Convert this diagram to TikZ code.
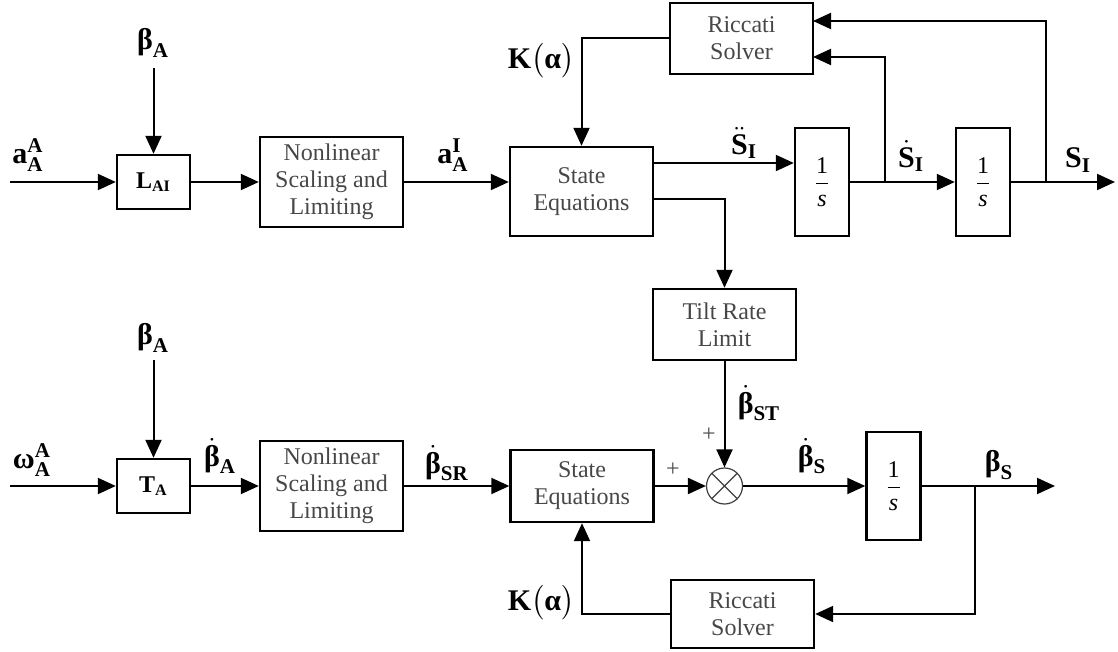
\documentclass[tikz,border=0pt]{standalone}
\usepackage{amsmath}
\usepackage{fontspec}
\setmainfont{Liberation Serif}
\usetikzlibrary{arrows.meta}

\newcommand{\bx}[1]{\text{\bfseries #1}}
\newcommand{\integ}{$\dfrac{\text{1}}{\text{\itshape s}}$}

\begin{document}
\begin{tikzpicture}[x=0.5pt,y=-0.5pt,line width=1pt,>={Triangle[length=9pt,width=8pt]},
  blk/.style={draw,line width=1.2pt,inner sep=0pt,align=center,text=black!72,font=\fontsize{12}{13.5}\selectfont},
  wide/.style={blk,minimum width=71.5pt,minimum height=#1},
  gain/.style={blk,text=black,minimum width=36.5pt,minimum height=27pt},
  intbox/.style={blk,text=black,minimum width=27pt,minimum height=54pt},
  sumnode/.style={circle,draw=black!75,line width=0.6pt,minimum size=18pt,inner sep=0pt,
    path picture={\draw[black!75,line width=0.6pt]
      (path picture bounding box.north west)--(path picture bounding box.south east)
      (path picture bounding box.north east)--(path picture bounding box.south west);}},
  lbl/.style={font=\fontsize{15}{17}\selectfont},
  sgn/.style={font=\fontsize{12}{13}\selectfont,text=black!70}]
  \useasboundingbox (0,0) rectangle (1118,652);

  % upper channel
  \node[gain] (lai) at (153.5,182) {$\bx{L}_{\bx{AI}}$};
  \node[wide=45pt] (nl1) at (331.5,182) {Nonlinear\\Scaling and\\Limiting};
  \node[wide=44.5pt] (se1) at (581.5,191.5) {State\\Equations};
  \node[wide=35.5pt] (ric1) at (741.5,38.5) {Riccati\\Solver};
  \node[intbox] (int1) at (822,182) {\integ};
  \node[intbox] (int2) at (983,182) {\integ};
  \node[wide=35.5pt] (tilt) at (724.5,324.5) {Tilt Rate\\Limit};

  % lower channel
  \node[gain] (ta) at (153.5,486) {$\bx{T}_{\bx{A}}$};
  \node[wide=45pt] (nl2) at (331.5,486) {Nonlinear\\Scaling and\\Limiting};
  \node[wide=36pt] (se2) at (582,486) {State\\Equations};
  \node[sumnode] (sum) at (724.5,486) {};
  \node[intbox] (int3) at (893.5,486) {\integ};
  \node[wide=34pt] (ric2) at (742.5,614) {Riccati\\Solver};

  % free ends and branch points
  \coordinate (inA) at (10,182);
  \coordinate (topA) at (153.5,68);
  \coordinate (sddL) at (653,163);
  \coordinate (seT) at (653,199);
  \coordinate (b1) at (885,182);
  \coordinate (b2) at (1046,182);
  \coordinate (r1) at (813,57);
  \coordinate (r2) at (813,21);
  \coordinate (outS) at (1115,182);
  \coordinate (inW) at (10,486);
  \coordinate (topB) at (153.5,360);
  \coordinate (b3) at (975,486);
  \coordinate (outB) at (1055,486);

  % upper connectors
  \draw[->] (inA) -- (lai.west);
  \draw[->] (topA) -- (lai.north);
  \draw[->] (lai) -- (nl1);
  \draw[->] (nl1.east) -- (nl1.east -| se1.west);
  \draw[->] (ric1.west) -| (se1.north);
  \draw[->] (sddL) -- (sddL -| int1.west);
  \draw[->] (seT) -| (tilt.north);
  \draw (int1.east) -- (b1);
  \draw[->] (b1) -- (int2.west);
  \draw[->] (b1) |- (r1);
  \draw (int2.east) -- (b2);
  \draw[->] (b2) -- (outS);
  \draw[->] (b2) |- (r2);

  % lower connectors
  \draw[->] (inW) -- (ta.west);
  \draw[->] (topB) -- (ta.north);
  \draw[->] (ta) -- (nl2);
  \draw[->] (nl2) -- (se2);
  \draw[->] (se2) -- (sum);
  \draw[->] (tilt) -- (sum);
  \draw[->] (sum) -- (int3);
  \draw (int3.east) -- (b3);
  \draw[->] (b3) -- (outB);
  \draw[->] (b3) |- (ric2.east);
  \draw[->] (ric2.west) -| (se2.south);

  % signal labels
  \node[lbl] (lAA) at (28,155) {$\bx{a}^{\bx{A}}_{\bx{A}}$};
  \node[lbl] (lbA1) at (153,43) {$\bx{β}_{\bx{A}}$};
  \node[lbl] (laI) at (453,155) {$\bx{a}^{\bx{I}}_{\bx{A}}$};
  \node[lbl] (lK1) at (541,61) {$\bx{K}\bigl(\bx{α}\bigr)$};
  \node[lbl] (lSdd) at (744,143) {$\ddot{\bx{S}}_{\bx{I}}$};
  \node[lbl] (lSd) at (911,156) {$\dot{\bx{S}}_{\bx{I}}$};
  \node[lbl] (lS) at (1078,160) {$\bx{S}_{\bx{I}}$};
  \node[lbl] (lwA) at (32,460) {$\bx{ω}^{\bx{A}}_{\bx{A}}$};
  \node[lbl] (lbA2) at (153,338) {$\bx{β}_{\bx{A}}$};
  \node[lbl] (lbdA) at (220,456) {$\dot{\bx{β}}_{\bx{A}}$};
  \node[lbl] (lbSR) at (447,463) {$\dot{\bx{β}}_{\bx{SR}}$};
  \node[lbl] (lbST) at (759,403) {$\dot{\bx{β}}_{\bx{ST}}$};
  \node[lbl] (lbdS) at (812,456) {$\dot{\bx{β}}_{\bx{S}}$};
  \node[lbl] (lbS) at (999,465) {$\bx{β}_{\bx{S}}$};
  \node[lbl] (lK2) at (541,603) {$\bx{K}\bigl(\bx{α}\bigr)$};
  \node[sgn] (p1) at (709,435) {+};
  \node[sgn] (p2) at (673,470) {+};
\end{tikzpicture}
\end{document}
